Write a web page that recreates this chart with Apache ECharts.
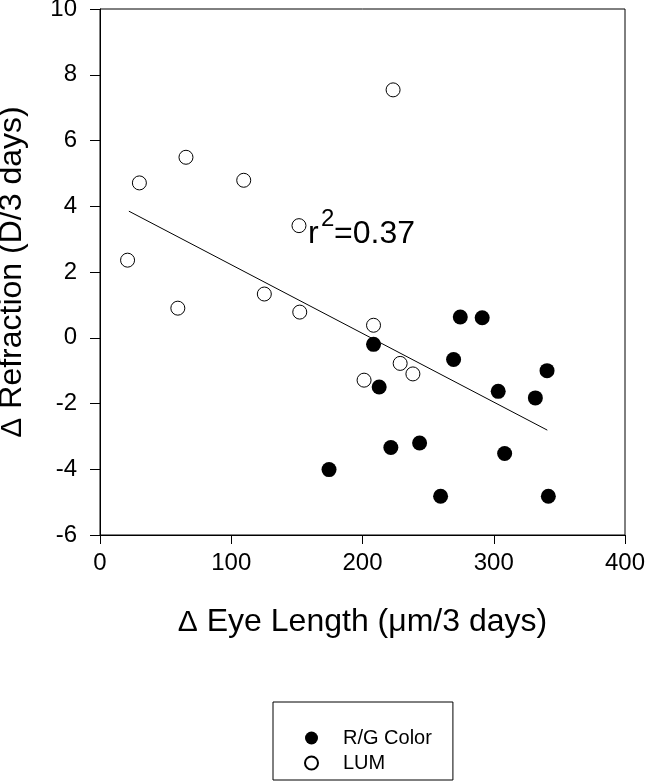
<!DOCTYPE html>
<html>
<head>
<meta charset="utf-8">
<script src="https://cdn.jsdelivr.net/npm/echarts@6/dist/echarts.min.js"></script>
<style>
  html, body { margin: 0; padding: 0; background: #fff; }
  #chart { width: 645px; height: 782px; }
</style>
</head>
<body>
<div id="chart"></div>
<script>
// values
const lumX = [21, 30, 65.5, 109.5, 151.6, 223.3, 59.3, 125.2, 152.2, 208.4, 201.2, 228.7, 238.4];
const lumY = [2.36, 4.71, 5.49, 4.79, 3.41, 7.54, 0.90, 1.33, 0.78, 0.38, -1.29, -0.78, -1.10];
const rgX = [174.5, 208.4, 212.7, 221.6, 243.5, 259.5, 269.4, 274.5, 291.2, 303.4, 308.3, 331.7, 340.6, 341.6];
const rgY = [-4.01, -0.20, -1.50, -3.34, -3.20, -4.82, -0.66, 0.63, 0.61, -1.63, -3.52, -1.83, -1.00, -4.82];
const fitX = [22, 340.8];
const fitY = [3.85, -2.81];
const seriesNames = ['R/G Color', 'LUM'];

const font = 'Liberation Sans, Arial, sans-serif';
const zip = (xs, ys) => xs.map((x, i) => [x, ys[i]]);
const deltaStyle = { fontSize: 30, lineHeight: 31, verticalAlign: 'bottom', fontFamily: font, color: '#000' };

const chart = echarts.init(document.getElementById('chart'));
chart.setOption({
  animation: false,
  grid: {
    left: 100, right: 20, top: 9, bottom: 247,
    outerBoundsMode: 'none', containLabel: false,
    show: true, borderColor: '#000', borderWidth: 1
  },
  xAxis: {
    type: 'value', min: 0, max: 400, interval: 100,
    name: '{d|Δ} Eye Length (μm/3 days)',
    nameLocation: 'middle', nameGap: 71,
    nameTextStyle: { color: '#000', fontFamily: font, fontSize: 32, rich: { d: deltaStyle } },
    axisLine: { onZero: false, lineStyle: { color: '#000', width: 1 } },
    axisTick: { length: 9, lineStyle: { color: '#000' } },
    axisLabel: { color: '#000', fontFamily: font, fontSize: 24, margin: 16 },
    splitLine: { show: false }
  },
  yAxis: {
    type: 'value', min: -6, max: 10, interval: 2,
    name: '{d|Δ} Refraction (D/3 days)',
    nameLocation: 'middle', nameGap: 72,
    nameTextStyle: { color: '#000', fontFamily: font, fontSize: 32, rich: { d: deltaStyle } },
    axisLine: { onZero: false, lineStyle: { color: '#000', width: 1 } },
    axisTick: { length: 10, lineStyle: { color: '#000' } },
    axisLabel: { color: '#000', fontFamily: font, fontSize: 24, margin: 23 },
    splitLine: { show: false }
  },
  legend: {
    data: seriesNames,
    orient: 'vertical',
    left: 273, top: 702,
    borderColor: '#000', borderWidth: 1,
    padding: [26, 21, 7, 31],
    itemWidth: 13, itemHeight: 13, itemGap: 5,
    textStyle: { color: '#000', fontFamily: font, fontSize: 20, padding: [0, 0, 0, 20] }
  },
  graphic: [
    { type: 'text', style: { text: 'r', x: 308, y: 234, fill: '#000', font: '32px ' + font, verticalAlign: 'middle' } },
    { type: 'text', style: { text: '2', x: 321, y: 219, fill: '#000', font: '24px ' + font, verticalAlign: 'middle' } },
    { type: 'text', style: { text: '=0.37', x: 334, y: 234, fill: '#000', font: '32px ' + font, verticalAlign: 'middle' } }
  ],
  series: [
    {
      type: 'line', data: zip(fitX, fitY), symbol: 'none', silent: true,
      lineStyle: { color: '#000', width: 1 }, z: 1
    },
    {
      name: 'LUM', type: 'scatter', data: zip(lumX, lumY), symbolSize: 14,
      itemStyle: { color: '#fff', borderColor: '#000', borderWidth: 1, opacity: 1 }, z: 2
    },
    {
      name: 'R/G Color', type: 'scatter', data: zip(rgX, rgY), symbolSize: 15,
      itemStyle: { color: '#000', borderColor: '#000', borderWidth: 0, opacity: 1 }, z: 3
    }
  ]
});
</script>
</body>
</html>
